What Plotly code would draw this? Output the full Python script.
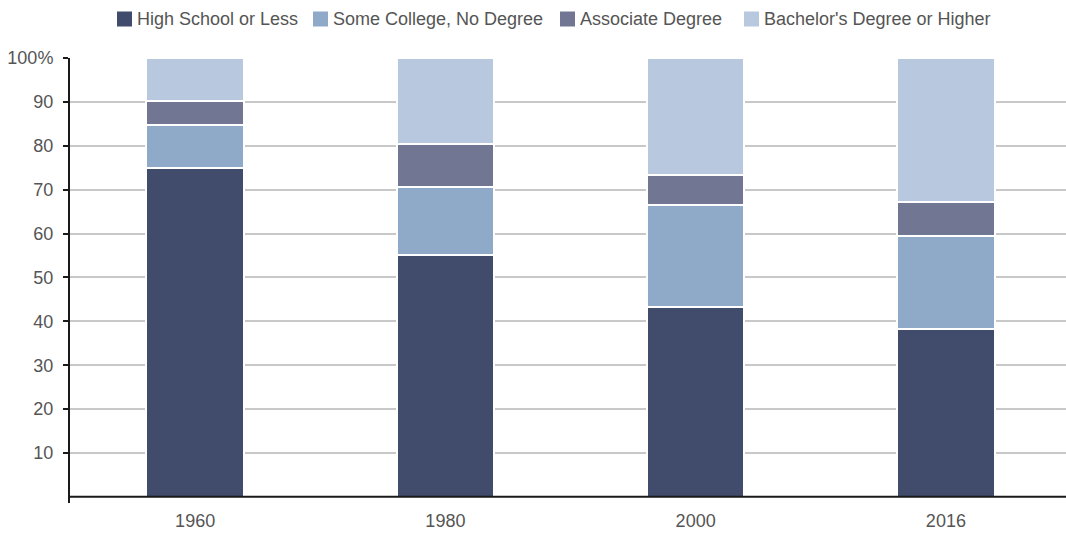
import plotly.graph_objects as go

# Share of adults by educational attainment, by year (percent)
years = ["1960", "1980", "2000", "2016"]
high_school_or_less = [75.0, 55.0, 43.3, 38.2]
some_college = [9.7, 15.5, 23.1, 21.3]
associate = [5.6, 10.0, 7.0, 7.6]
bachelors_or_higher = [9.7, 19.5, 26.6, 32.9]

series_names = [
    "High School or Less",
    "Some College, No Degree",
    "Associate Degree",
    "Bachelor's Degree or Higher",
]
series_values = [high_school_or_less, some_college, associate, bachelors_or_higher]
series_colors = ["#414b6b", "#8fa9c8", "#717792", "#b8c8de"]

y_tick_vals = [10, 20, 30, 40, 50, 60, 70, 80, 90, 100]
y_tick_text = ["10", "20", "30", "40", "50", "60", "70", "80", "90", "100%"]

text_color = "#555555"
axis_color = "#1a1a1a"
font_family = "Liberation Sans, Arial, sans-serif"

# Figure geometry (pixels)
W, H = 1066, 537
M_L, M_R, M_T, M_B = 70, 0, 58, 34
plot_w = W - M_L - M_R
plot_h = H - M_T - M_B


def px_to_paper_x(px):
    return (px - M_L) / plot_w


def px_to_paper_y(py):
    return (H - M_B - py) / plot_h


fig = go.Figure()
for name, vals, color in zip(series_names, series_values, series_colors):
    fig.add_trace(
        go.Bar(
            x=years,
            y=vals,
            name=name,
            marker=dict(color=color, line=dict(color="white", width=2)),
            hoverinfo="x+y+name",
            showlegend=False,
        )
    )

# Baseline drawn on top of the bars
shapes = [
    dict(
        type="line",
        xref="paper",
        yref="y",
        x0=0,
        x1=1,
        y0=0,
        y1=0,
        line=dict(color=axis_color, width=2),
        layer="above",
    )
]

# Legend row above the plot: swatch + label for each series
legend_left_px = [117, 313, 560, 744]
swatch = 15
legend_cy = 19
annotations = []
for left, name, color in zip(legend_left_px, series_names, series_colors):
    shapes.append(
        dict(
            type="rect",
            xref="paper",
            yref="paper",
            x0=px_to_paper_x(left),
            x1=px_to_paper_x(left + swatch),
            y0=px_to_paper_y(legend_cy + swatch / 2),
            y1=px_to_paper_y(legend_cy - swatch / 2),
            fillcolor=color,
            line=dict(width=0),
        )
    )
    annotations.append(
        dict(
            xref="paper",
            yref="paper",
            x=px_to_paper_x(left + swatch + 3),
            y=px_to_paper_y(legend_cy),
            xanchor="left",
            yanchor="middle",
            text=name,
            showarrow=False,
            font=dict(size=18, color=text_color, family=font_family),
        )
    )

fig.update_layout(
    width=W,
    height=H,
    barmode="stack",
    bargap=0.61,
    plot_bgcolor="white",
    paper_bgcolor="white",
    margin=dict(l=M_L, r=M_R, t=M_T, b=M_B),
    font=dict(family=font_family, size=18, color=text_color),
    showlegend=False,
    shapes=shapes,
    annotations=annotations,
    xaxis=dict(
        type="category",
        range=[-0.5, 3.48],
        showline=False,
        ticks="",
        showgrid=False,
        tickfont=dict(size=18, color=text_color),
        ticklabelstandoff=5,
        zeroline=False,
    ),
    yaxis=dict(
        range=[-1.4, 100],
        tickvals=y_tick_vals,
        ticktext=y_tick_text,
        showline=True,
        linecolor=axis_color,
        linewidth=2,
        ticks="outside",
        ticklen=5,
        tickwidth=2,
        tickcolor=axis_color,
        showgrid=True,
        gridcolor="#c8c8c8",
        gridwidth=1.5,
        zeroline=False,
        tickfont=dict(size=18, color=text_color),
        ticklabelstandoff=6,
    ),
)

fig.write_html("out.html")
